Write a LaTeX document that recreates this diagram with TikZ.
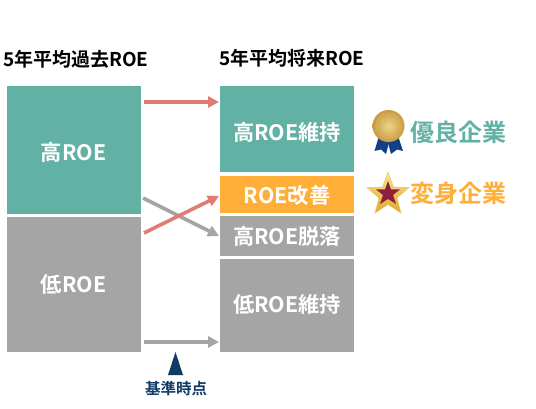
\documentclass[tikz,border=0pt]{standalone}
\usepackage{fontspec}
\setmainfont{Noto Sans CJK JP}[BoldFont={Noto Sans CJK JP Bold}]
\usetikzlibrary{arrows.meta,shadings}
\definecolor{teal}{HTML}{62B1A5}
\definecolor{gry}{HTML}{A5A5A5}
\definecolor{orng}{HTML}{FFAE37}
\definecolor{rd}{HTML}{E07B75}
\definecolor{navy}{HTML}{0F3B66}
\definecolor{ribbon}{HTML}{123F85}
\definecolor{goldin}{HTML}{EFD488}
\definecolor{goldout}{HTML}{C99A3E}
\definecolor{staru}{HTML}{FBE48A}
\definecolor{stard}{HTML}{E0A92E}
\definecolor{starin}{HTML}{8E1F3F}
\tikzset{
 boxx/.style={anchor=north west,inner sep=0,outer sep=0,minimum width=134pt},
 txt/.style={inner sep=0,text=white,font=\fontsize{21.3}{23}\selectfont\bfseries},
 head/.style={anchor=base west,inner sep=0,font=\fontsize{19}{21}\selectfont\bfseries,text=black},
 lab/.style={anchor=base west,inner sep=0,font=\fontsize{24}{26}\selectfont\bfseries},
 conn/.style={line width=3.6pt,-{Triangle[length=11pt,width=11pt]}},
}
\begin{document}
\begin{tikzpicture}[x=1pt,y=-1pt]
\useasboundingbox (0,0) rectangle (536,409);
\node[head] (h1) at (3,67) {5年平均過去ROE};
\node[head] (h2) at (219,66) {5年平均将来ROE};
\node[boxx,fill=teal,minimum height=128pt] (a) at (7,86) {};
\node[boxx,fill=gry,minimum height=135pt] (b) at (7,217) {};
\node[boxx,fill=teal,minimum height=86pt] (c) at (220,86) {};
\node[boxx,fill=orng,minimum height=37pt] (d) at (220,176) {};
\node[boxx,fill=gry,minimum height=40pt] (e) at (220,216) {};
\node[boxx,fill=gry,minimum height=93pt] (f) at (220,259) {};
\node[txt] (ta) at (73.5,152) {高ROE};
\node[txt] (tb) at (73.5,284) {低ROE};
\node[txt] (tc) at (287,132) {高ROE維持};
\node[txt] (td) at (287,195) {ROE改善};
\node[txt] (te) at (287,236) {高ROE脱落};
\node[txt] (tf) at (287,304) {低ROE維持};
\coordinate (p1) at (144,102); \coordinate (q1) at (219,102);
\coordinate (p2) at (143,198); \coordinate (q2) at (219,236);
\coordinate (p3) at (144,233); \coordinate (q3) at (219,196);
\coordinate (p4) at (144,342); \coordinate (q4) at (219,342);
\draw[conn,gry] (p2) -- (q2);
\draw[conn,rd] (p3) -- (q3);
\draw[conn,rd] (p1) -- (q1);
\draw[conn,gry] (p4) -- (q4);
\fill[navy] (175.5,352) -- (168,375) -- (183,375) -- cycle;
\node[anchor=base,inner sep=0,text=navy,font=\fontsize{15.5}{17}\selectfont\bfseries] (k) at (176,394) {基準時点};
% medal
\fill[ribbon] (379,136) -- (374.5,151) -- (381,149.5) -- (386,154) -- (390,139) -- cycle;
\fill[ribbon] (398,136) -- (403,151) -- (397,149.5) -- (391,154) -- (387,139) -- cycle;
\shade[inner color=goldin,outer color=goldout] (388.5,126) circle (16);
\draw[goldout!80!white,line width=.6pt] (388.5,126) circle (12.5);
\node[lab,text=teal] (m) at (410,142) {優良企業};
% star
\shade[top color=staru,bottom color=stard,draw=stard!70!white,line width=.5pt]
 (388,172) -- (393.5,187) -- (409,187.5) -- (397,198) -- (401,213) -- (388,204.5) -- (375,213) -- (379,198) -- (367,187.5) -- (382.5,187) -- cycle;
\fill[starin]
 (388,181) -- (391,189.5) -- (400,189.5) -- (393,195) -- (396,204) -- (388,199) -- (380,204) -- (383,195) -- (376,189.5) -- (385,189.5) -- cycle;
\node[lab,text=orng] (n) at (410,203) {変身企業};
\end{tikzpicture}
\end{document}
